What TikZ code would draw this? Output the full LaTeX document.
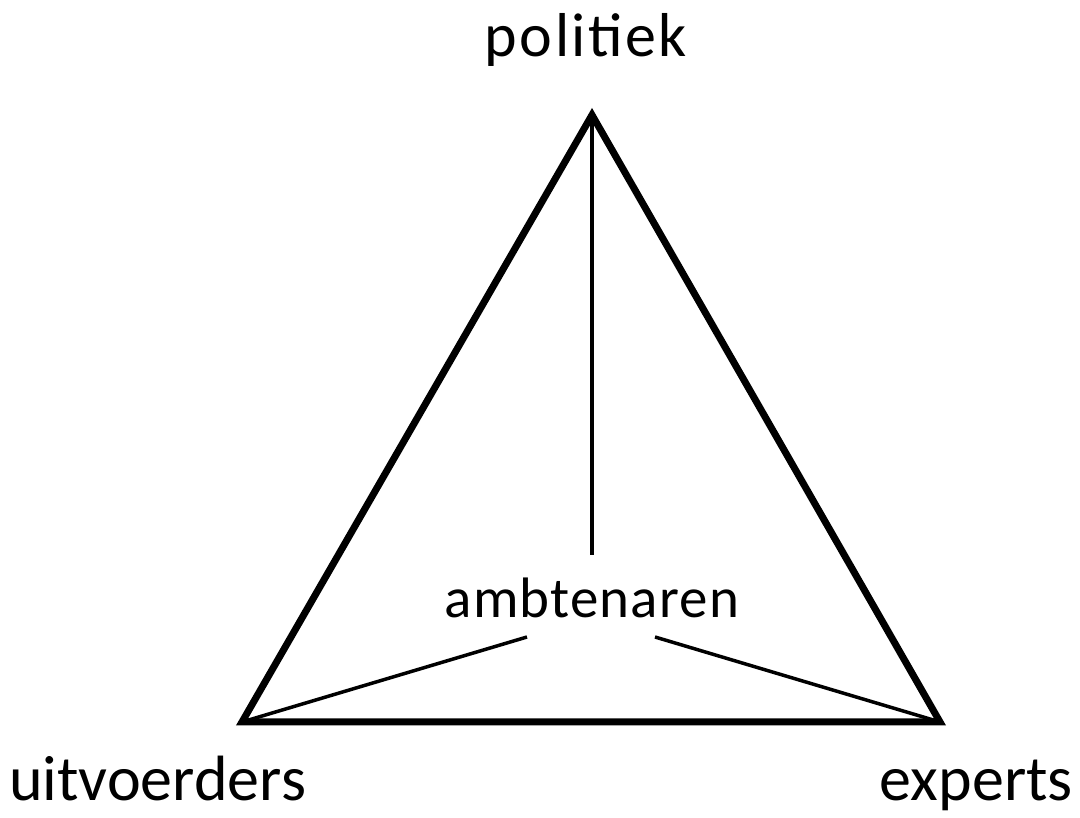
\documentclass[tikz,border=0pt]{standalone}
\usepackage{fontspec}
\setmainfont{Carlito}
\begin{document}
\begin{tikzpicture}[x=1pt,y=1pt,
  lbl/.style={inner sep=0pt,anchor=base},
  big/.style={font=\fontsize{64}{66}\selectfont},
  mid/.style={font=\addfontfeatures{LetterSpace=4}\fontsize{62}{66}\selectfont},
  small/.style={font=\addfontfeatures{LetterSpace=2}\fontsize{57}{60}\selectfont},
  side/.style={line width=7pt,line join=miter},
  link/.style={line width=3.5pt}]
\useasboundingbox (0,0) rectangle (1080,818);
\coordinate (top) at (592,703);
\coordinate (bl) at (242,96);
\coordinate (br) at (940,96);
\draw[side] (top) -- (bl) -- (br) -- cycle;
\node[lbl,mid] (pol) at (586,761) {politiek};
\node[lbl,small] (amb) at (592,200) {ambtenaren};
\node[lbl,big,anchor=base west] (uit) at (9,17) {uitvoerders};
\node[lbl,big,anchor=base east] (exp) at (1073,17) {experts};
\coordinate (ambtop) at (592,263);
\coordinate (ambl) at (527,181);
\coordinate (ambr) at (655,181);
\draw[link] (top) -- (ambtop);
\draw[link] (bl) -- (ambl);
\draw[link] (br) -- (ambr);
\end{tikzpicture}
\end{document}
